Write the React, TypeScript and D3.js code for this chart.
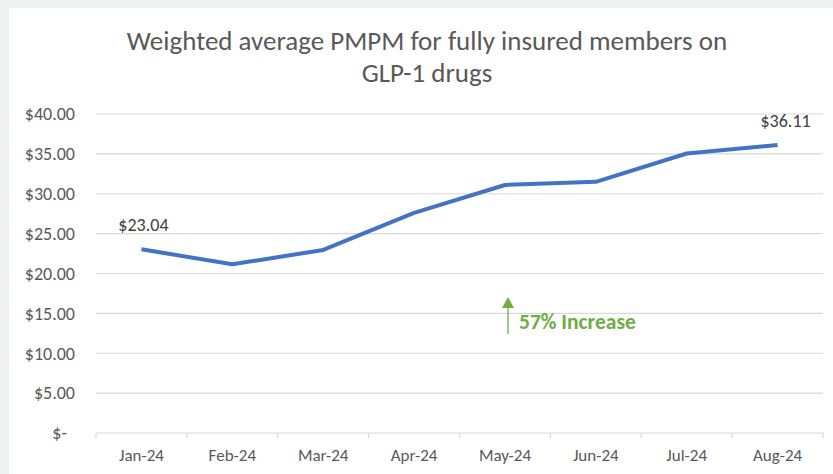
import React from 'react';
import * as d3 from 'd3';

const months = ['Jan-24', 'Feb-24', 'Mar-24', 'Apr-24', 'May-24', 'Jun-24', 'Jul-24', 'Aug-24'];
const pmpm = [23.04, 21.15, 22.95, 27.6, 31.1, 31.5, 35.05, 36.11];
const yTicks = [0, 5, 10, 15, 20, 25, 30, 35, 40];
const labelled = [0, 7];

const width = 833;
const height = 474;
const margin = { top: 114, right: 10, bottom: 41, left: 96 };

const fmt = (v: number) => (v === 0 ? '$-' : `$${v.toFixed(2)}`);

const App: React.FC = () => {
  const x = d3.scaleBand<string>().domain(months).range([margin.left, 823]);
  const y = d3.scaleLinear().domain([0, 40]).range([height - margin.bottom, margin.top]);
  const cx = (m: string) => (x(m) as number) + x.bandwidth() / 2;
  const y0 = y(0);

  const line = d3
    .line<number>()
    .x((_, i) => cx(months[i]))
    .y((d) => y(d));

  const font = 'Calibri, Carlito, Lato, sans-serif';
  const grey = '#595959';

  return (
    <svg width={width} height={height} style={{ position: 'absolute', left: 0, top: 0 }}>
      <rect x={0} y={0} width={width} height={height} fill="#eef0f2" />
      <rect x={9} y={8} width={width - 9} height={height - 8} fill="#ffffff" />
      <text x={427} y={50} textAnchor="middle" fontFamily={font} fontSize={27} fill={grey}>
        Weighted average PMPM for fully insured members on
      </text>
      <text x={427} y={82} textAnchor="middle" fontFamily={font} fontSize={27} fill={grey}>
        GLP-1 drugs
      </text>

      {yTicks.map((t) => (
        <g key={t}>
          <line x1={margin.left} x2={823} y1={y(t)} y2={y(t)} stroke="#d9d9d9" strokeWidth={1.2} />
          <text
            x={t === 0 ? 67 : 75}
            y={y(t)}
            dy="0.35em"
            textAnchor="end"
            fontFamily={font}
            fontSize={18}
            fill={grey}
          >
            {fmt(t)}
          </text>
        </g>
      ))}

      {months.map((m) => (
        <g key={m}>
          <line x1={x(m)} x2={x(m)} y1={y0} y2={y0 + 5} stroke="#d9d9d9" strokeWidth={1.2} />
          <text x={cx(m)} y={455} dy="0.35em" textAnchor="middle" fontFamily={font} fontSize={17} fill={grey}>
            {m}
          </text>
        </g>
      ))}
      <line x1={823} x2={823} y1={y0} y2={y0 + 5} stroke="#d9d9d9" strokeWidth={1.2} />

      <path d={line(pmpm) as string} fill="none" stroke="#4472c4" strokeWidth={4} strokeLinejoin="round" />

      {labelled.map((i) => (
        <text
          key={i}
          x={cx(months[i]) + (i === 0 ? 2 : 8)}
          y={y(pmpm[i]) - 18}
          textAnchor="middle"
          fontFamily={font}
          fontSize={18}
          fill="#404040"
        >
          {fmt(pmpm[i])}
        </text>
      ))}

      <line x1={508} y1={334} x2={508} y2={306} stroke="#70ad47" strokeWidth={1.3} />
      <path d="M502,308 L508,297 L514,308 Z" fill="#70ad47" />
      <text x={519} y={321} dy="0.35em" fontFamily={font} fontSize={21.5} fontWeight="bold" fill="#70ad47">
        57% Increase
      </text>
    </svg>
  );
};

export default App;
